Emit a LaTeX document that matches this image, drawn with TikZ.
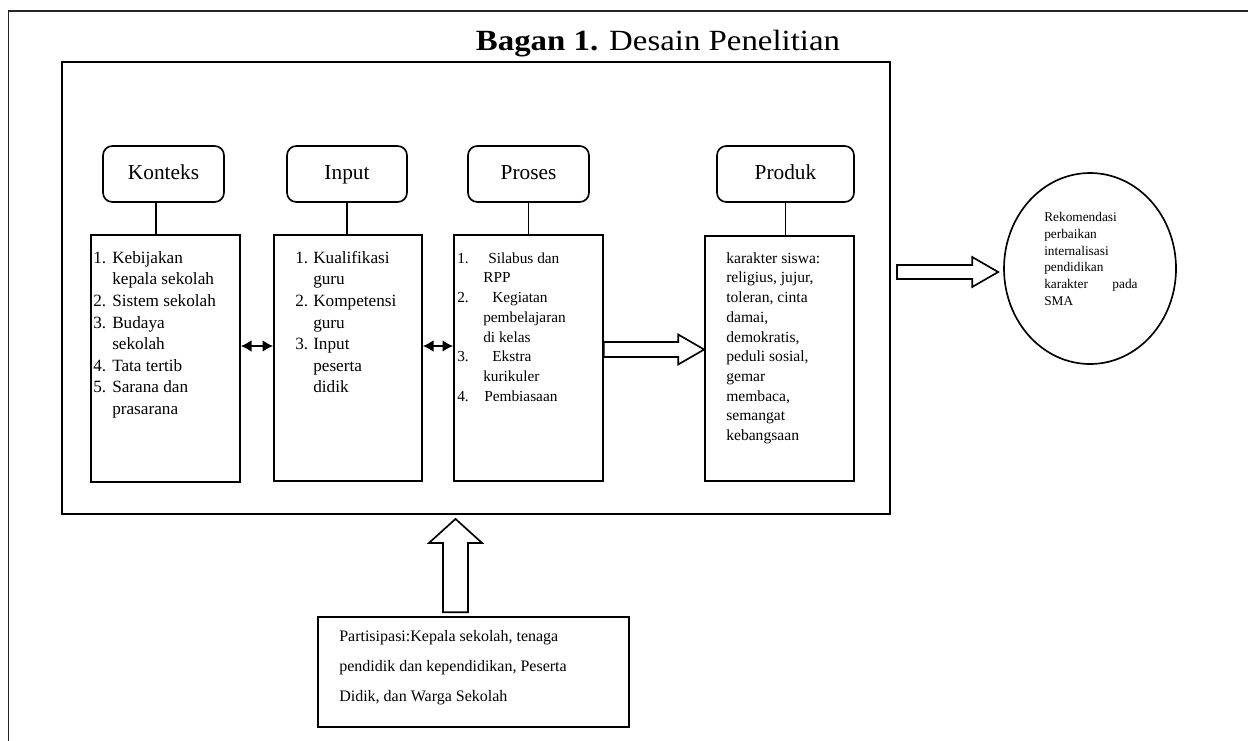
\documentclass[tikz,border=0pt]{standalone}
\usepackage{fontspec}
\usepackage{graphicx}
\setmainfont{Liberation Serif}
\usetikzlibrary{calc,arrows.meta,shapes.geometric}
\newcommand{\nm}[2]{\makebox[#1][l]{#2}}
\newcommand{\harrow}[5]{%
  \draw[blk] ($(#1)+(0,-#3)$) -- ($(#2)+(-#5,-#3)$) -- ($(#2)+(-#5,-#4)$) -- (#2)
    -- ($(#2)+(-#5,#4)$) -- ($(#2)+(-#5,#3)$) -- ($(#1)+(0,#3)$) -- cycle;}
\begin{document}
\begin{tikzpicture}[x=0.75pt,y=-0.75pt,
  hdr/.style={draw, line width=1.25pt, rounded corners=7pt, inner sep=0pt, text height=11pt, text depth=3.5pt, font=\fontsize{16}{19}\selectfont},
  cbox/.style={draw, line width=1.25pt, inner sep=0pt},
  lst/.style={inner sep=0pt, anchor=north west, align=left},
  conn/.style={line width=1.25pt},
  dbl/.style={line width=1.6pt, {Latex[length=8pt,width=9pt]}-{Latex[length=8pt,width=9pt]}},
  blk/.style={draw, line width=1.25pt, fill=white, line join=miter}]
\useasboundingbox (0,0) rectangle (1248,740);
\begin{scope}
  \clip (0,0) rectangle (1248,740);
  \draw[line width=0.9pt, black!85] (8.5,11) rectangle (1270,770);
\end{scope}

% title
\node[anchor=base, inner sep=0pt] (title) at (658,50)
  {\fontsize{22}{26}\selectfont\scalebox{1.12}[1]{\textbf{Bagan 1.} Desain Penelitian}};

% main frame
\node[draw, line width=1.4pt, inner sep=0pt, minimum width=621pt, minimum height=339pt] (main) at (476,288) {};

% headers
\node[hdr, minimum width=90.75pt, minimum height=42pt] (kh) at (163.5,174) {Konteks};
\node[hdr, minimum width=90pt, minimum height=42pt] (ih) at (347,174) {Input};
\node[hdr, minimum width=90.75pt, minimum height=42pt] (ph) at (528.5,174) {Proses};
\node[hdr, minimum width=102.75pt, minimum height=42pt] (dh) at (785.5,174) {Produk};

% content boxes
\node[cbox, minimum width=111.75pt, minimum height=185.25pt] (kc) at (165.5,358.5) {};
\node[cbox, minimum width=111pt, minimum height=184.5pt] (ic) at (348,358) {};
\node[cbox, minimum width=111.75pt, minimum height=184.5pt] (pc) at (528.5,358) {};
\node[cbox, minimum width=111.75pt, minimum height=183.75pt] (dc) at (779.5,358.5) {};

% connectors
\draw[conn] ([xshift=-5.6pt]kh.south) -- ([xshift=-5.6pt]kh.south |- kc.north);
\draw[conn] (ih.south) -- (ih.south |- ic.north);
\draw[conn] (ph.south) -- (ph.south |- pc.north);
\draw[conn] (dh.south) -- (dh.south |- dc.north);

% lists
\node[lst] (kt) at (93,248) {\fontsize{12.9}{16.2}\selectfont
\begin{tabular}{@{}l@{}}
\nm{14.25pt}{1.}Kebijakan\\
\hspace*{14.25pt}kepala sekolah\\
\nm{14.25pt}{2.}Sistem sekolah\\
\nm{14.25pt}{3.}Budaya\\
\hspace*{14.25pt}sekolah\\
\nm{14.25pt}{4.}Tata tertib\\
\nm{14.25pt}{5.}Sarana dan\\
\hspace*{14.25pt}prasarana
\end{tabular}};

\node[lst] (it) at (295,248) {\fontsize{12.9}{16.2}\selectfont
\begin{tabular}{@{}l@{}}
\nm{13.5pt}{1.}Kualifikasi\\
\hspace*{13.5pt}guru\\
\nm{13.5pt}{2.}Kompetensi\\
\hspace*{13.5pt}guru\\
\nm{13.5pt}{3.}Input\\
\hspace*{13.5pt}peserta\\
\hspace*{13.5pt}didik
\end{tabular}};

\node[lst] (pt) at (457,249) {\fontsize{11.5}{14.8}\selectfont
\begin{tabular}{@{}l@{}}
\nm{19.5pt}{1.}\hspace*{3.75pt}Silabus dan\\
\hspace*{19.5pt}RPP\\
\nm{19.5pt}{2.}\hspace*{6.75pt}Kegiatan\\
\hspace*{19.5pt}pembelajaran\\
\hspace*{19.5pt}di kelas\\
\nm{19.5pt}{3.}\hspace*{6.75pt}Ekstra\\
\hspace*{19.5pt}kurikuler\\
\nm{19.5pt}{4.}\hspace*{0.75pt}Pembiasaan
\end{tabular}};

\node[lst] (dt) at (726,249) {\fontsize{11.7}{14.8}\selectfont
\begin{tabular}{@{}l@{}}
karakter siswa:\\
religius, jujur,\\
toleran, cinta\\
damai,\\
demokratis,\\
peduli sosial,\\
gemar\\
membaca,\\
semangat\\
kebangsaan
\end{tabular}};

% double arrows
\draw[dbl] (kc.east |- 0,346) -- (ic.west |- 0,346);
\draw[dbl] (ic.east |- 0,346) -- (pc.west |- 0,346);

% ellipse
\node[draw, ellipse, line width=1.25pt, inner sep=0pt, minimum width=129pt, minimum height=143.25pt] (rek) at (1090,268.5) {};
\node[lst] (rt) at (1044,210) {\fontsize{10}{12.5}\selectfont
\begin{tabular}{@{}l@{}}
Rekomendasi\\
perbaikan\\
internalisasi\\
pendidikan\\
\makebox[70pt][l]{karakter\hfill pada}\\
SMA
\end{tabular}};

% bottom box
\node[cbox, minimum width=233.25pt, minimum height=82.5pt] (bt) at (473.5,672) {};
\node[lst] (btt) at (339,620) {\fontsize{12}{22.5}\selectfont
\begin{tabular}{@{}l@{}}
Partisipasi:Kepala sekolah, tenaga\\
pendidik dan kependidikan, Peserta\\
Didik, dan Warga Sekolah
\end{tabular}};

% block arrows
\coordinate (a1s) at (pc.east |- 0,349.5);
\coordinate (a1e) at (dc.west |- 0,349.5);
\harrow{a1s}{a1e}{7.5}{15}{26}
\coordinate (a2s) at ($(main.east |- 0,272)+(6,0)$);
\coordinate (a2e) at ($(rek.west |- 0,272)+(-5,0)$);
\harrow{a2s}{a2e}{7}{15}{26}
\coordinate (a3s) at ($(bt.north)+(-18,-4)$);
\coordinate (a3e) at ($(main.south)+(-20.5,4)$);
\draw[blk] ($(a3s)+(-12.5,0)$) -- ($(a3e)+(-12.5,24)$) -- ($(a3e)+(-26.5,24)$) -- (a3e)
  -- ($(a3e)+(26.5,24)$) -- ($(a3e)+(12.5,24)$) -- ($(a3s)+(12.5,0)$) -- cycle;
\end{tikzpicture}
\end{document}
